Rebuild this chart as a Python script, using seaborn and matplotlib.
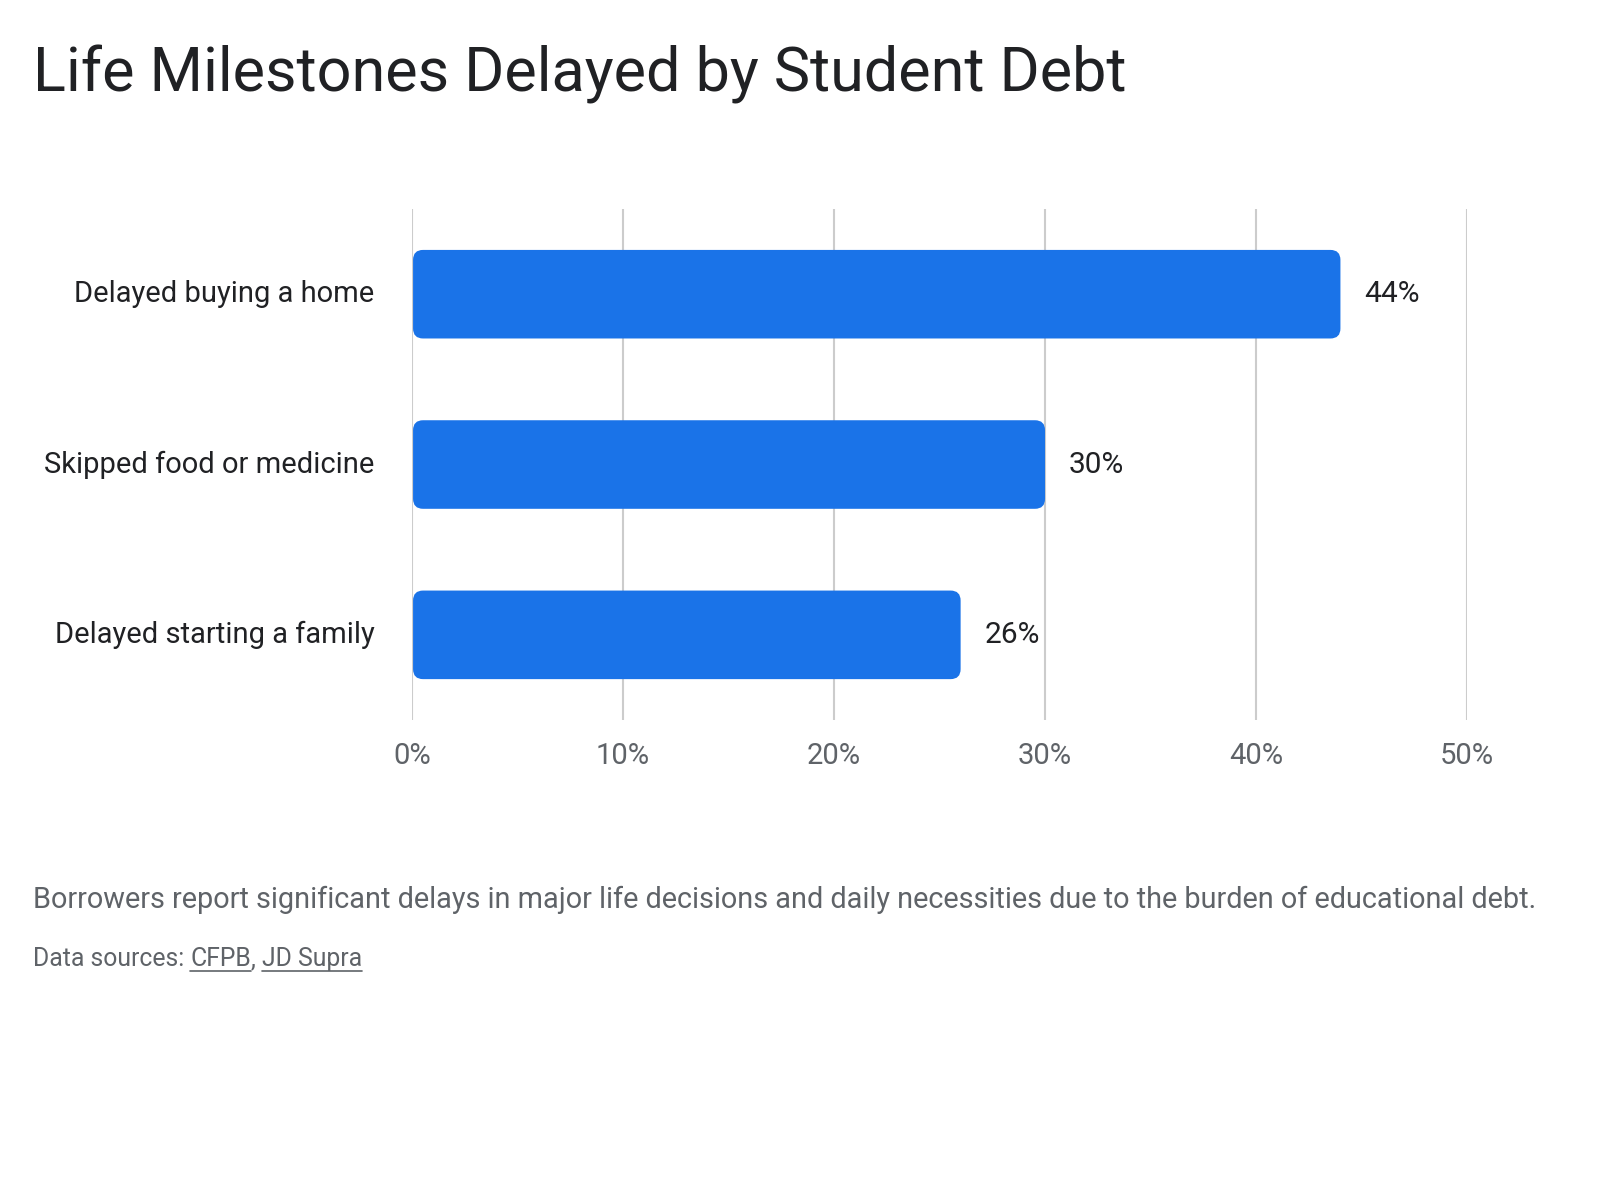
import pandas as pd
import seaborn as sns
import matplotlib.pyplot as plt
from matplotlib.patches import FancyBboxPatch
from matplotlib.ticker import PercentFormatter
from matplotlib.transforms import ScaledTranslation

categorias = ['Delayed buying a home', 'Skipped food or medicine', 'Delayed starting a family']
valores = [44, 30, 26]
ticks = [0, 10, 20, 30, 40, 50]

df = pd.DataFrame({'Marco': categorias, 'Percentual': valores})

sns.set_style('white')
plt.rcParams['font.family'] = ['Roboto', 'DejaVu Sans']

fig = plt.figure(figsize=(16, 12), dpi=100)
ax = fig.add_axes([0.2575, 0.40, 0.6594, 0.4258])

AZUL = '#1A73E8'
sns.barplot(data=df, x='Percentual', y='Marco', orient='h', color=AZUL, width=0.52, ax=ax, zorder=3)

ax.set_xlim(0, 50)
ax.set_ylim(2.5, -0.5)

#  trocar os retangulos por barras com cantos arredondados
fig.canvas.draw()
px_x = ax.bbox.width / 50
px_y = ax.bbox.height / 3
raio = 10 / px_x
aspecto = (10 / px_y) / raio
for p in list(ax.patches):
    x, y, w, h = p.get_x(), p.get_y(), p.get_width(), p.get_height()
    p.remove()
    ax.add_patch(FancyBboxPatch((x + 0.05, y), w - 0.05, h,
                                boxstyle=f'round,pad=0,rounding_size={raio}',
                                mutation_aspect=aspecto, facecolor=AZUL,
                                edgecolor='none', zorder=3))

#  rotulos de valor
for i, v in enumerate(valores):
    ax.text(v + 24 / px_x, i, f'{v}%', va='center', ha='left', fontsize=21.5, color='#202124')

ax.set_xticks(ticks)
ax.xaxis.set_major_formatter(PercentFormatter(decimals=0))
ax.grid(axis='x', color='#cccccc', linewidth=1.5, zorder=0)
ax.grid(axis='y', visible=False)
for s in ax.spines.values():
    s.set_visible(False)
ax.tick_params(axis='x', length=0, pad=16, labelsize=21, labelcolor='#5f6368')
ax.tick_params(axis='y', length=0, pad=27, labelsize=21, labelcolor='#202124')
ax.set_xlabel('')
ax.set_ylabel('')

# subir um pouco os rotulos do eixo y
desloc = ScaledTranslation(0, 3 / 100, fig.dpi_scale_trans)
for lab in ax.get_yticklabels():
    lab.set_transform(lab.get_transform() + desloc)

fig.text(33 / 1600, 1 - 92 / 1200, 'Life Milestones Delayed by Student Debt',
         fontsize=44, color='#202124', ha='left', va='baseline')
fig.text(33 / 1600, 1 - 908 / 1200,
         'Borrowers report significant delays in major life decisions and daily necessities due to the burden of educational debt.',
         fontsize=20.8, color='#5f6368', ha='left', va='baseline')

#  fontes com sublinhado
partes = [('Data sources: ', False), ('CFPB', True), (', ', False), ('JD Supra', True)]
xpos = 33
renderer = fig.canvas.get_renderer()
for txt, sub in partes:
    t = fig.text(xpos / 1600, 1 - 966 / 1200, txt, fontsize=17.8, color='#5f6368', ha='left', va='baseline')
    bb = t.get_window_extent(renderer)
    if sub:
        yl = 1 - 971 / 1200
        fig.add_artist(plt.Line2D([bb.x0 / 1600, bb.x1 / 1600], [yl, yl], color='#5f6368', linewidth=1.2))
    xpos = bb.x1

plt.savefig('out.png', dpi=100, facecolor='white')
